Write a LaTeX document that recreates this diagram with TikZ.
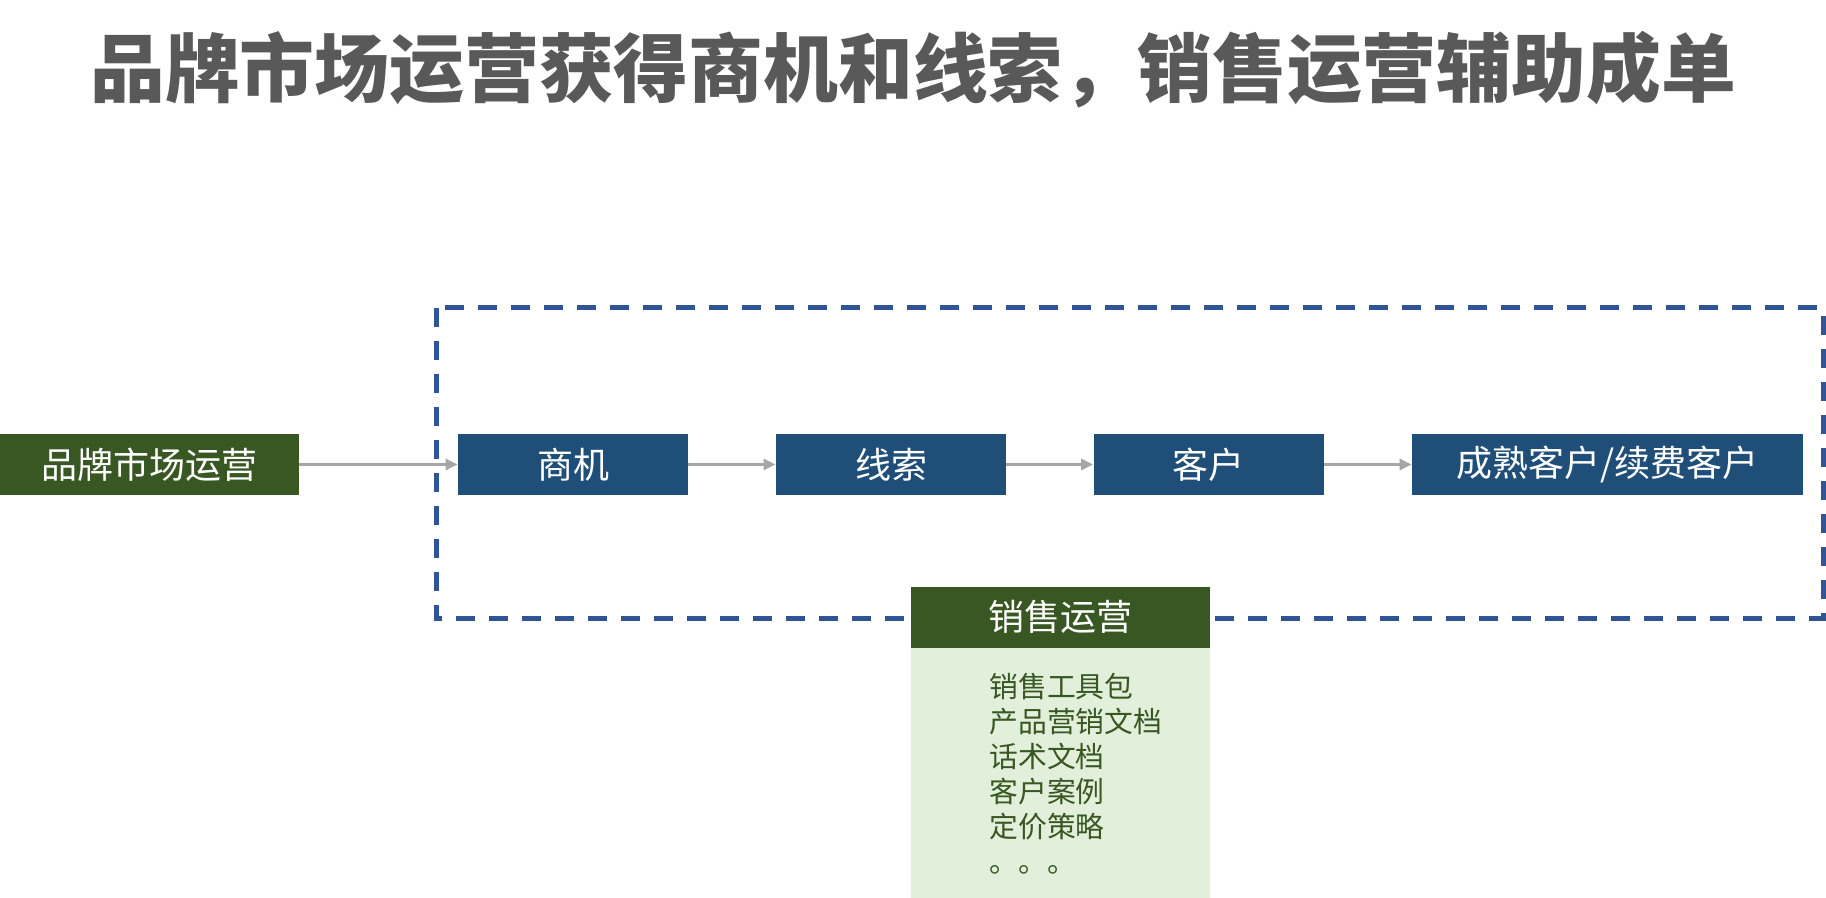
\documentclass[tikz,border=0pt]{standalone}
\usepackage{fontspec}
\newfontfamily\cjk{Noto Sans CJK SC}
\usetikzlibrary{arrows.meta}
\definecolor{titlegray}{HTML}{595959}
\definecolor{brandgreen}{HTML}{385723}
\definecolor{procblue}{HTML}{1F4E79}
\definecolor{dashblue}{HTML}{2F5597}
\definecolor{lightgreen}{HTML}{E2EFDA}
\definecolor{arrowgray}{HTML}{A6A6A6}

\begin{document}
\begin{tikzpicture}[x=0.5pt, y=-0.5pt,
	every node/.style={inner sep=0pt, font=\cjk},
	>={Triangle[length=6pt, width=5.5pt]},
	box/.style={minimum height=30.5pt, text=white, font=\cjk\fontsize{18pt}{18pt}\selectfont},
	flow/.style={->, draw=arrowgray, line width=1.5pt}]
	\useasboundingbox (0,0) rectangle (1826,898);
	\node[text=titlegray, font=\cjk\bfseries\fontsize{37.4pt}{37.4pt}\selectfont] (title) at (913,70) {品牌市场运营获得商机和线索，销售运营辅助成单};
	% dashed frame round the sales stages
	\draw[dashblue, line width=2.5pt, dash pattern=on 9.5pt off 7pt] (436,308) rectangle (1823,618);
	\node[box, fill=brandgreen, minimum width=149.5pt] (brand) at (149.5,464.5) {品牌市场运营};
	\node[box, fill=procblue, minimum width=115pt] (chance) at (573,464.5) {商机};
	\node[box, fill=procblue, minimum width=115pt] (lead) at (891,464.5) {线索};
	\node[box, fill=procblue, minimum width=115pt] (client) at (1208.5,464.5) {客户};
	\node[box, fill=procblue, minimum width=195.5pt] (mature) at (1607.5,464.5) {成熟客户/续费客户};
	\draw[flow] (brand) -- (chance);
	\draw[flow] (chance) -- (lead);
	\draw[flow] (lead) -- (client);
	\draw[flow] (client) -- (mature);
	% sales operation panel
	\node[fill=lightgreen, minimum width=149.5pt, minimum height=125pt, anchor=north] (toolbody) at (1060.5,648) {};
	\node[box, fill=brandgreen, minimum width=149.5pt, anchor=south] (sales) at (toolbody.north) {销售运营};
	\node[anchor=north west, align=left, text=brandgreen, font=\cjk\fontsize{14.4pt}{17.5pt}\selectfont] (tools) at (989,673) {销售工具包\\产品营销文档\\话术文档\\客户案例\\定价策略\\。。。};
\end{tikzpicture}
\end{document}
